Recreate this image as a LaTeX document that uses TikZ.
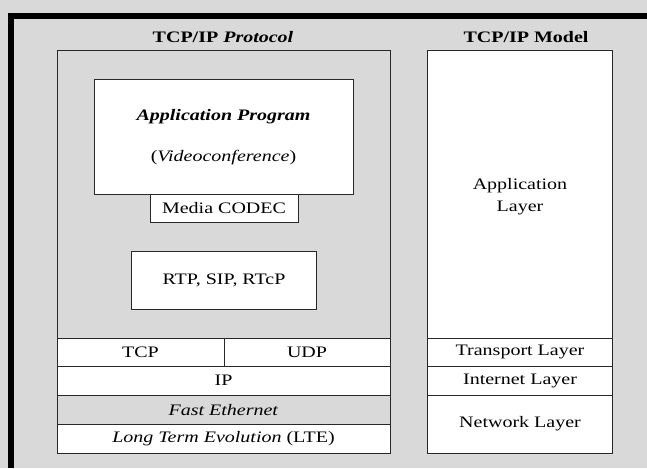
\documentclass[tikz,border=0pt]{standalone}
\usepackage{fontspec}
\setmainfont{Liberation Serif}
\newcommand{\hs}[1]{\scalebox{1.25}[1]{#1}}
\definecolor{bg}{RGB}{217,217,217}
\definecolor{ln}{RGB}{40,40,40}
\begin{document}
\begin{tikzpicture}[x=1pt,y=-1pt,
  box/.style={draw=ln, line width=0.8pt, fill=white, inner sep=0pt, outer sep=0pt, anchor=north west, font=\fontsize{16}{19}\selectfont},
  lbl/.style={font=\fontsize{16}{19}\selectfont, inner sep=0pt},
  ttl/.style={font=\fontsize{16}{19}\selectfont\bfseries, inner sep=0pt}]
\fill[bg] (0,0) rectangle (647,468);
\useasboundingbox (0,0) rectangle (647,468);
\fill[black] (8,13) rectangle (647,19);
\fill[black] (8,13) rectangle (14,468);
% titles
\node[ttl] (t1) at (223,37) {\hs{TCP/IP \textit{Protocol}}};
\node[ttl] (t2) at (526,37) {\hs{TCP/IP Model}};
% left stack
\node[box, fill=bg, minimum width=333pt, minimum height=403pt] (proto) at (57,50) {};
\node[box, minimum width=259pt, minimum height=115pt] (app) at (94,79) {};
\node[lbl, font=\fontsize{16}{19}\selectfont\bfseries\itshape] (appt) at (223.5,117) {\hs{Application Program}};
\node[lbl] (appv) at (223.5,158) {\hs{(\textit{Videoconference})}};
\node[box, minimum width=148pt, minimum height=28.5pt] (codec) at (150,194) {\hs{Media CODEC}};
\node[box, minimum width=185pt, minimum height=58pt] (rtp) at (131.5,251.5) {\hs{RTP, SIP, RTcP}};
\node[box, minimum width=167pt, minimum height=28.5pt] (tcp) at (57,338) {\hs{TCP}};
\node[box, minimum width=166pt, minimum height=28.5pt] (udp) at (224,338) {\hs{UDP}};
\node[box, minimum width=333pt, minimum height=28.5pt] (ip) at (57,366.5) {\hs{IP}};
\node[box, fill=bg, minimum width=333pt, minimum height=29.5pt] (fe) at (57,395) {\hs{\textit{Fast Ethernet}}};
\node[box, minimum width=333pt, minimum height=28.5pt] (lte) at (57,424.5) {\hs{\textit{Long Term Evolution} (LTE)}};
\draw[ln, line width=0.6pt, dash pattern=on 4pt off 3pt] (fe.south west) -- (fe.south east);
% right stack
\node[box, minimum width=185pt, minimum height=288pt] (appl) at (427.5,50) {};
\node[lbl, align=center] (applt) at (520,197) {\hs{Application}\\[3pt]\hs{Layer}};
\node[box, minimum width=185pt, minimum height=28.5pt] (trl) at (427.5,338) {\hs{Transport Layer}};
\node[box, minimum width=185pt, minimum height=28.5pt] (inl) at (427.5,366.5) {\hs{Internet Layer}};
\node[box, minimum width=185pt, minimum height=58pt] (nwl) at (427.5,395) {\hs{Network Layer}};
\end{tikzpicture}
\end{document}
